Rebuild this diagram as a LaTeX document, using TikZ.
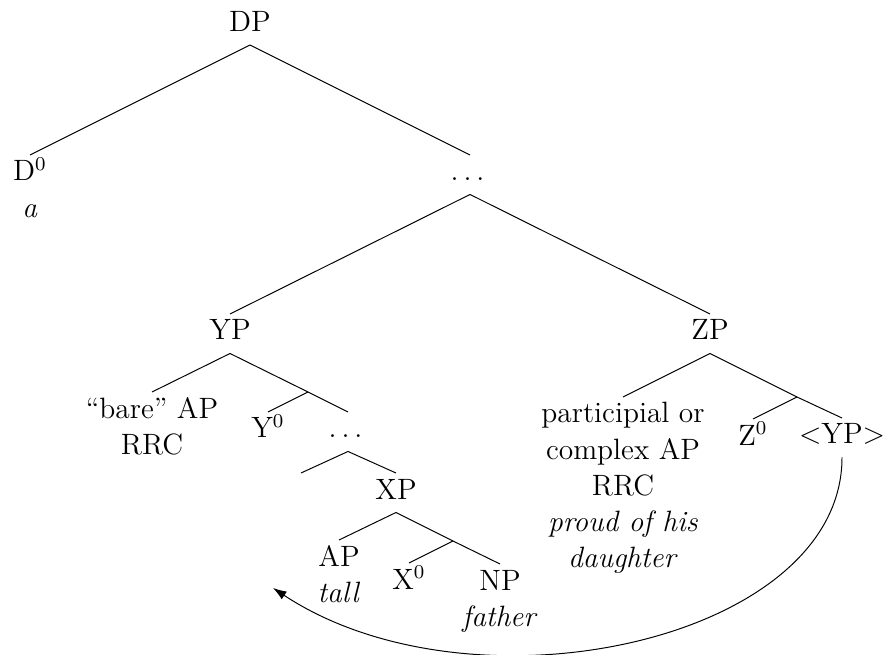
\documentclass[tikz,border=0pt]{standalone}
\usetikzlibrary{arrows.meta}
\newcommand{\stk}[1]{\begin{tabular}[t]{@{}c@{}}#1\end{tabular}}
\newcommand{\ddd}{$\ldots$\kern2pt}
\begin{document}
\begin{tikzpicture}[x=0.40816pt,y=-0.40816pt,
  every node/.style={inner sep=0pt, outer sep=0pt, font=\fontsize{12}{14.7}\selectfont},
  tn/.style={anchor=base, text height=10.61pt, text depth=5.5pt},
  lf/.style={anchor=base, text height=10.61pt},
  branch/.style={line width=0.4pt},
  mv/.style={line width=0.4pt, -{Latex[length=5.5pt,width=3.8pt]}}]
\useasboundingbox (0,0) rectangle (887,655);
% nodes
\node[tn] (DP) at (250,31.5) {DP};
\node[lf] (D) at (30,181) {\stk{D$^0$\\\textit{a}}};
\node[tn] (dA) at (470,181) {\ddd};
\node[tn] (YP) at (230,340) {YP};
\node[tn] (ZP) at (710,340) {ZP};
\node[lf] (bare) at (152,418) {\stk{\textquotedblleft bare\textquotedblright{} AP\\RRC}};
\coordinate (Yb) at (308,392);
\node[lf] (Y0) at (268,438) {Y$^0$};
\node[tn] (dB) at (348,438) {\ddd};
\coordinate (e1) at (301,473);
\node[tn] (XP) at (396,499) {XP};
\node[lf] (AP) at (339,566) {\stk{AP\\\textit{tall}}};
\coordinate (Xb) at (453,541);
\node[lf] (X0) at (409,589) {X$^0$};
\node[lf] (NP) at (500,590) {\stk{NP\\\textit{father}}};
\node[lf] (part) at (623,423) {\stk{participial or\\complex AP\\RRC\\\textit{proud of his}\\\textit{daughter}}};
\coordinate (Zb) at (797,397);
\node[lf] (Z0) at (753,445) {Z$^0$};
\node[tn] (YPt) at (842,444) {$<$YP$>$};
\coordinate (tip) at (273,588);
% branches
\draw[branch] (DP.south) -- (D.north);
\draw[branch] (DP.south) -- (dA.north);
\draw[branch] (dA.south) -- (YP.north);
\draw[branch] (dA.south) -- (ZP.north);
\draw[branch] (YP.south) -- (bare.north);
\draw[branch] (YP.south) -- (Yb) -- (dB.north);
\draw[branch] (Yb) -- (Y0.north);
\draw[branch] (dB.south) -- (e1);
\draw[branch] (dB.south) -- (XP.north);
\draw[branch] (XP.south) -- (AP.north);
\draw[branch] (XP.south) -- (Xb) -- (NP.north);
\draw[branch] (Xb) -- (X0.north);
\draw[branch] (ZP.south) -- (part.north);
\draw[branch] (ZP.south) -- (Zb) -- (YPt.north);
\draw[branch] (Zb) -- (Z0.north);
% movement arrow
\draw[mv] (YPt.south) .. controls (842,641) and (473,720) .. (tip);
\end{tikzpicture}
\end{document}
